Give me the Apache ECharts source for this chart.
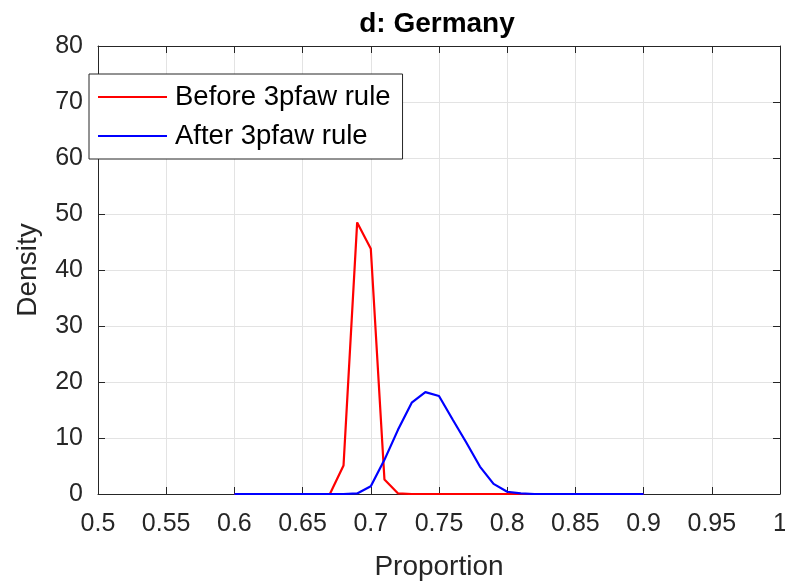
<!DOCTYPE html>
<html>
<head>
<meta charset="utf-8">
<script src="https://cdn.jsdelivr.net/npm/echarts@6/dist/echarts.min.js"></script>
<style>
  html, body { margin: 0; padding: 0; background: #fff; }
  #chart { width: 785px; height: 587px; }
</style>
</head>
<body>
<div id="chart"></div>
<script>
// Proportion grid at which the density estimates are evaluated
const proportions = [
  0.60, 0.61, 0.62, 0.63, 0.64, 0.65, 0.66, 0.67, 0.68, 0.69, 0.70,
  0.71, 0.72, 0.73, 0.74, 0.75, 0.76, 0.77, 0.78, 0.79, 0.80,
  0.81, 0.82, 0.83, 0.84, 0.85, 0.86, 0.87, 0.88, 0.89, 0.90
];
// Density before the 3pfaw rule
const densityBefore = [
  0, 0, 0, 0, 0, 0, 0, 0, 5.1, 48.5, 43.8,
  2.6, 0.1, 0, 0, 0, 0, 0, 0, 0, 0,
  0, 0, 0, 0, 0, 0, 0, 0, 0, 0
];
// Density after the 3pfaw rule
const densityAfter = [
  0, 0, 0, 0, 0, 0, 0, 0, 0, 0.1, 1.4,
  6.1, 11.5, 16.3, 18.2, 17.5, 13.3, 9.2, 4.9, 1.8, 0.4,
  0.1, 0, 0, 0, 0, 0, 0, 0, 0, 0
];
const seriesNames = ['Before 3pfaw rule', 'After 3pfaw rule'];
const titleText = 'd: Germany';
const xAxisName = 'Proportion';
const yAxisName = 'Density';

const FONT = '"Liberation Sans", Arial, Helvetica, sans-serif';
const AXIS_COLOR = '#262626';
const GRID_COLOR = '#e3e3e3';

const pairs = (ys) => proportions.map((x, i) => [x, ys[i]]);

const chart = echarts.init(document.getElementById('chart'), null, { renderer: 'canvas' });

const baseTick = { show: true, inside: true, length: 7, lineStyle: { color: AXIS_COLOR, width: 1 } };
const boxLine = { show: true, onZero: false, lineStyle: { color: AXIS_COLOR, width: 1 } };

chart.setOption({
  animation: false,
  backgroundColor: '#ffffff',
  title: {
    text: titleText,
    left: 437,
    textAlign: 'center',
    top: 10,
    padding: 0,
    textStyle: { fontFamily: FONT, fontSize: 28, fontWeight: 'bold', color: '#000' }
  },
  grid: { left: 98, right: 5, top: 46, bottom: 93, containLabel: false, outerBoundsMode: 'none' },
  legend: {
    orient: 'vertical',
    left: 89,
    top: 74,
    data: seriesNames.map((name) => ({ name, icon: 'rect' })),
    backgroundColor: '#ffffff',
    borderColor: AXIS_COLOR,
    borderWidth: 1,
    borderRadius: 0,
    padding: [8, 12, 8, 9],
    itemGap: 9,
    itemWidth: 69,
    itemHeight: 2,
    textStyle: { fontFamily: FONT, fontSize: 27.5, color: '#000', lineHeight: 30, padding: [0, 0, 0, 3] }
  },
  xAxis: [
    {
      type: 'value',
      min: 0.5, max: 1, interval: 0.05,
      name: xAxisName,
      nameLocation: 'middle',
      nameGap: 59,
      nameTextStyle: { fontFamily: FONT, fontSize: 28, color: AXIS_COLOR },
      axisLine: boxLine,
      axisTick: baseTick,
      axisLabel: { fontFamily: FONT, fontSize: 25, color: AXIS_COLOR, margin: 18,
        formatter: (v) => String(+v.toFixed(2)) },
      splitLine: { show: true, lineStyle: { color: GRID_COLOR, width: 1 } }
    },
    {
      type: 'value',
      position: 'top',
      min: 0.5, max: 1, interval: 0.05,
      axisLine: boxLine,
      axisTick: baseTick,
      axisLabel: { show: false },
      splitLine: { show: false }
    }
  ],
  yAxis: [
    {
      type: 'value',
      min: 0, max: 80, interval: 10,
      name: yAxisName,
      nameLocation: 'middle',
      nameGap: 56,
      nameRotate: 90,
      nameTextStyle: { fontFamily: FONT, fontSize: 28, color: AXIS_COLOR },
      axisLine: boxLine,
      axisTick: baseTick,
      axisLabel: { fontFamily: FONT, fontSize: 25, color: AXIS_COLOR, margin: 15 },
      splitLine: { show: true, lineStyle: { color: GRID_COLOR, width: 1 } }
    },
    {
      type: 'value',
      position: 'right',
      min: 0, max: 80, interval: 10,
      axisLine: boxLine,
      axisTick: baseTick,
      axisLabel: { show: false },
      splitLine: { show: false }
    }
  ],
  series: [
    {
      name: seriesNames[0],
      type: 'line',
      xAxisIndex: 0, yAxisIndex: 0,
      data: pairs(densityBefore),
      symbol: 'none',
      color: '#ff0000',
      lineStyle: { color: '#ff0000', width: 2.2 },
      z: 3
    },
    {
      name: seriesNames[1],
      type: 'line',
      xAxisIndex: 0, yAxisIndex: 0,
      data: pairs(densityAfter),
      symbol: 'none',
      color: '#0000ff',
      lineStyle: { color: '#0000ff', width: 2.2 },
      z: 4
    }
  ]
});
</script>
</body>
</html>
